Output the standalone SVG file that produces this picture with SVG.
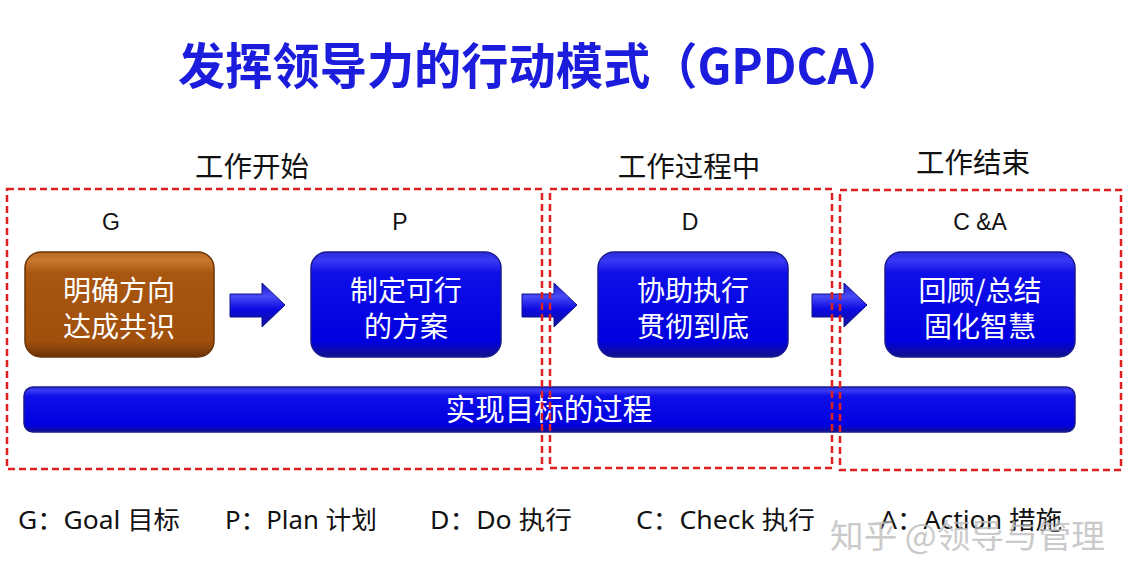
<svg xmlns="http://www.w3.org/2000/svg" width="1133" height="581" viewBox="0 0 1133 581">
<defs>
<linearGradient id="gBlue" x1="0" y1="0" x2="0" y2="1">
<stop offset="0" stop-color="#2a2ad8"/>
<stop offset="0.08" stop-color="#3a3af5"/>
<stop offset="0.2" stop-color="#0f0fe8"/>
<stop offset="0.85" stop-color="#0000e0"/>
<stop offset="1" stop-color="#12128a"/>
</linearGradient>
<linearGradient id="gBrown" x1="0" y1="0" x2="0" y2="1">
<stop offset="0" stop-color="#b8661e"/>
<stop offset="0.08" stop-color="#c87a30"/>
<stop offset="0.2" stop-color="#a85610"/>
<stop offset="0.85" stop-color="#a0500c"/>
<stop offset="1" stop-color="#6a3406"/>
</linearGradient>
<linearGradient id="gArrow" x1="0" y1="0" x2="0" y2="1">
<stop offset="0" stop-color="#1818c8"/>
<stop offset="0.3" stop-color="#4a4af8"/>
<stop offset="0.6" stop-color="#0a0ae0"/>
<stop offset="1" stop-color="#10109a"/>
</linearGradient>
<style>
.title{font-family:"Noto Sans CJK SC","Liberation Sans",sans-serif;font-weight:bold;font-size:49px;fill:#1c1cdc}
.sec{font-family:"Noto Sans CJK SC",sans-serif;font-size:28.5px;fill:#111}
.let{font-family:"Liberation Sans","Noto Sans CJK SC",sans-serif;font-size:23px;fill:#111}
.node{font-family:"Noto Sans CJK SC",sans-serif;font-size:28px;fill:#fff}
.bart{font-family:"Noto Sans CJK SC",sans-serif;font-size:29.5px;fill:#fff}
.leg{font-family:"Noto Sans","Noto Sans CJK SC",sans-serif;font-size:25px;fill:#111}
.dash{fill:none;stroke:#e02020;stroke-width:2.5;stroke-dasharray:7,4}
.blue{fill:url(#gBlue);stroke:#1a1a90;stroke-width:1.5}
.brown{fill:url(#gBrown);stroke:#6a3406;stroke-width:1.5}
.arr{fill:url(#gArrow);stroke:#12128a;stroke-width:1}
.wm{font-family:"Noto Sans CJK SC",sans-serif;font-size:33px;fill:#bdbdbd;opacity:0.8}
</style>
</defs>
<rect width="1133" height="581" fill="#fff"/>

<text class="title" x="178" y="84" textLength="727" lengthAdjust="spacingAndGlyphs">发挥领导力的行动模式（GPDCA）</text>

<text class="sec" x="252" y="177" text-anchor="middle">工作开始</text>
<text class="sec" x="689" y="177" text-anchor="middle">工作过程中</text>
<text class="sec" x="973" y="173" text-anchor="middle">工作结束</text>

<g id="bar">
<rect class="blue" x="24" y="387" width="1051" height="45" rx="9"/>
<text class="bart" x="549" y="420" text-anchor="middle">实现目标的过程</text>
</g>

<g id="nodeG">
<text class="let" x="111" y="230" text-anchor="middle">G</text>
<rect class="brown" x="25" y="252" width="189" height="105" rx="16"/>
<text class="node" x="119" y="301" text-anchor="middle">明确方向</text>
<text class="node" x="119" y="337" text-anchor="middle">达成共识</text>
</g>
<g id="nodeP">
<text class="let" x="400" y="230" text-anchor="middle">P</text>
<rect class="blue" x="311" y="252" width="190" height="105" rx="16"/>
<text class="node" x="406" y="301" text-anchor="middle">制定可行</text>
<text class="node" x="406" y="337" text-anchor="middle">的方案</text>
</g>
<g id="nodeD">
<text class="let" x="690" y="230" text-anchor="middle">D</text>
<rect class="blue" x="598" y="252" width="190" height="105" rx="16"/>
<text class="node" x="693" y="301" text-anchor="middle">协助执行</text>
<text class="node" x="693" y="337" text-anchor="middle">贯彻到底</text>
</g>
<g id="nodeCA">
<text class="let" x="980" y="230" text-anchor="middle">C &amp;A</text>
<rect class="blue" x="885" y="252" width="190" height="105" rx="16"/>
<text class="node" x="980" y="301" text-anchor="middle">回顾/总结</text>
<text class="node" x="980" y="337" text-anchor="middle">固化智慧</text>
</g>

<g id="connectors">
<path class="arr" d="M230,294 H262 V283 L285,305 L262,327 V317 H230 Z"/>
<path class="arr" d="M522,294 H554 V283 L577,305 L554,327 V317 H522 Z"/>
<path class="arr" d="M812,294 H844 V283 L867,305 L844,327 V317 H812 Z"/>
</g>

<g id="phases">
<rect class="dash" x="7" y="189" width="535" height="280"/>
<rect class="dash" x="550" y="189" width="282" height="279"/>
<rect class="dash" x="840" y="190" width="281" height="280"/>
</g>

<g id="legend">
<text class="leg" x="18" y="529" textLength="162" lengthAdjust="spacingAndGlyphs">G：Goal 目标</text>
<text class="leg" x="225" y="529" textLength="152" lengthAdjust="spacingAndGlyphs">P：Plan 计划</text>
<text class="leg" x="430" y="529" textLength="142" lengthAdjust="spacingAndGlyphs">D：Do 执行</text>
<text class="leg" x="636" y="529" textLength="179" lengthAdjust="spacingAndGlyphs">C：Check 执行</text>
<text class="leg" x="880" y="529" textLength="182" lengthAdjust="spacingAndGlyphs">A：Action 措施</text>
</g>
<text class="wm" x="830" y="548" textLength="275" lengthAdjust="spacingAndGlyphs">知乎 @领导与管理</text>
</svg>
